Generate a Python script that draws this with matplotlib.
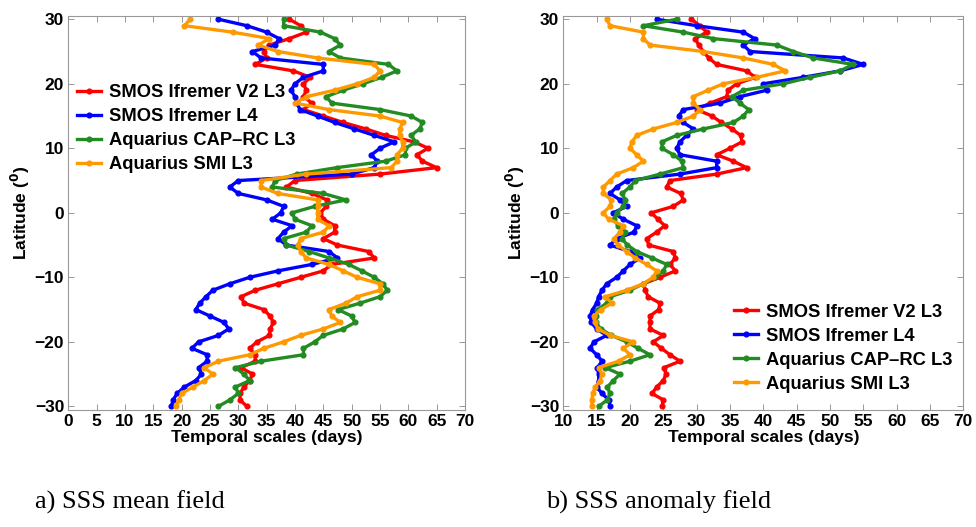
import numpy as np
import matplotlib
matplotlib.use("Agg")
import matplotlib.pyplot as plt

# latitude grid (degrees), 30N -> 30S
lat = np.arange(30, -31, -1)

# a) SSS mean field, temporal scales (days)
mean_smos_v2 = [39, 41, 42, 39, 35.5, 34.5, 35, 33, 39.7, 42.7,
                41.5, 42, 41.5, 43, 41.5, 45, 48.5, 52.5, 56, 61,
                63.5, 61.5, 62.5, 65, 55, 40, 38.5, 43, 45.6, 45.5,
                44.5, 45, 47, 47, 45, 47.5, 53, 54, 46.5, 45,
                41, 37, 33, 30.5, 31, 34.5, 35.6, 36.2, 35.6, 35.5,
                33.3, 32, 33, 33, 30.5, 32.5, 32, 31, 30.3, 30.3, 31.5]
mean_smos_l4 = [26.5, 31.5, 35, 37.2, 36.5, 32.5, 34, 45, 45, 41.5,
                40, 39.3, 40, 40.3, 40.9, 44, 47, 50.5, 54, 57.5,
                55, 53.5, 54.5, 54, 50, 30, 28.5, 30, 35, 38,
                37.5, 36, 39.5, 38, 37, 38.5, 46, 47.5, 43, 37,
                32, 28.5, 25.5, 24.3, 23.2, 22.5, 25, 27.5, 28.3, 26.5,
                23, 21.8, 24.5, 24.5, 23, 23.5, 22.5, 20.5, 19.2, 18.5, 18.2]
mean_aq_caprc = [38, 38, 44.5, 47, 48, 46, 48, 56.5, 58, 55.3,
                 52, 48.5, 45.5, 46.5, 55, 60.5, 62.5, 62, 60.5, 61.3,
                 59.5, 59.5, 56, 47.4, 40.3, 36.5, 36, 45, 49, 43.5,
                 39.5, 40, 43, 42, 38, 38.5, 42.5, 46, 49.5, 51.8,
                 54, 55.5, 56.3, 55, 51.5, 47.6, 50, 50.6, 48.5, 45,
                 43.5, 41.5, 41.5, 34, 29.5, 31, 32, 29.5, 30, 28.5, 26.5]
mean_aq_smi = [21.5, 20.5, 29, 35.5, 33.5, 37, 44, 54, 55, 54,
               51, 47, 42, 40, 46, 55, 59, 58.5, 58.5, 59,
               59, 58, 58, 57, 42, 34, 34, 37, 44, 44,
               44, 44, 46, 45, 41, 40.5, 41, 42, 46, 48.5,
               51, 55, 55, 51, 49, 46, 46.5, 48, 45, 41,
               38, 34.5, 32, 26.5, 24, 25.5, 24, 22, 20, 19.5, 19]

# b) SSS anomaly field, temporal scales (days)
anom_smos_v2 = [29.2, 30.5, 31.5, 29.8, 30.3, 31, 31.8, 33, 37.5, 38.8,
                36, 34.7, 34.5, 32, 30, 32.3, 33.7, 35.3, 36.6, 36.8,
                35, 33, 35.5, 37.5, 33, 26, 25.5, 27.6, 28, 26.5,
                23.2, 24.2, 25.2, 24, 22.5, 22.8, 26.5, 26.8, 26, 26.8,
                24.5, 22, 22.3, 22.7, 24.5, 24.3, 23, 23, 23, 25,
                23.5, 24.7, 26, 27.5, 25.1, 25.4, 25, 24, 23.3, 25, 24.8]
anom_smos_l4 = [24, 30, 37, 38.7, 37, 38, 52, 55, 51.5, 46,
                40, 40.5, 36.5, 33.5, 28, 27.3, 28, 29.5, 28.5, 27.5,
                27, 27.5, 33, 33, 27.5, 19.5, 18, 17, 18.5, 19.5,
                17.5, 19, 21, 20.6, 18, 17, 20, 21.5, 20, 19,
                18, 16.5, 15.8, 15.3, 15, 14.4, 14, 14.2, 15, 16.5,
                14.6, 14, 15, 15.8, 15.1, 15.3, 15.3, 15, 15.8, 16.8, 17]
anom_aq_caprc = [27, 22, 28, 32.5, 42, 44.5, 47.5, 53.5, 51.5, 47,
                 43, 37, 35.3, 36.5, 37.8, 37, 35.5, 31, 27, 24.8,
                 24.8, 26.5, 27.8, 28, 24.5, 20.8, 20, 18.8, 19.3, 19,
                 18, 17.6, 18.2, 19.3, 18.8, 19.6, 21, 23.3, 25.5, 25,
                 23.7, 22, 20, 17, 16.5, 15.1, 14.9, 14.9, 15.6, 17.2,
                 19.5, 21.2, 23, 20, 16.3, 18.5, 17.5, 16.6, 17, 16.6, 15.3]
anom_aq_smi = [16.5, 17, 22, 22, 23, 31, 37, 41.5, 43.3, 39,
               34, 31.7, 29.5, 29.5, 30.5, 29.5, 27, 23.5, 21, 20.3,
               20, 21, 22, 20.5, 18, 17, 16, 16, 17.2, 17,
               16, 16.8, 19, 18.5, 17.6, 18.2, 19.5, 20.8, 22.5, 24,
               23.5, 22, 19.5, 16.3, 17.3, 15.6, 14.6, 14.7, 15.2, 17,
               20.5, 19, 20, 18.3, 15.3, 15.8, 15.5, 14.8, 14.4, 14.3, 14.3]

labels = ["SMOS Ifremer V2 L3", "SMOS Ifremer L4",
          "Aquarius CAP\u2013RC L3", "Aquarius SMI L3"]
colors = ["#ff0000", "#0000ff", "#228b22", "#ff9900"]

fig = plt.figure(figsize=(9.76, 5.27), dpi=100)
ax1 = fig.add_axes([0.070, 0.2228, 0.4064, 0.7468])
ax2 = fig.add_axes([0.5772, 0.2228, 0.4098, 0.7468])

tick_font = dict(family=["Liberation Sans Narrow", "Liberation Sans"], weight="bold")

def draw(ax, series, xlim, xticks):
    for vals, lab, col in zip(series, labels, colors):
        ax.plot(vals, lat, "-o", color=col, lw=2.4, ms=3.4, label=lab)
    ax.set_xlim(*xlim)
    ax.set_ylim(-30.5, 30.5)
    ax.set_xticks(xticks)
    ax.set_yticks(np.arange(-30, 31, 10))
    ax.tick_params(direction="in", top=True, right=True, length=4,
                   width=0.6, color="#888888", pad=3)
    for t in ax.get_xticklabels() + ax.get_yticklabels():
        t.set_fontproperties(tick_font)
        t.set_fontsize(12.5)
    for s in ax.spines.values():
        s.set_color("#999999")
        s.set_linewidth(0.8)
    ax.set_xlabel("Temporal scales (days)", fontsize=12.5, fontweight="bold",
                  family=tick_font["family"], labelpad=1)
    ax.set_ylabel("Latitude ($^{\\mathbf{0}}$)", fontsize=12.5, fontweight="bold",
                  family=tick_font["family"], labelpad=2)

draw(ax1, [mean_smos_v2, mean_smos_l4, mean_aq_caprc, mean_aq_smi],
     (0, 70), np.arange(0, 71, 5))
draw(ax2, [anom_smos_v2, anom_smos_l4, anom_aq_caprc, anom_aq_smi],
     (10, 70), np.arange(10, 71, 5))

leg_font = dict(family=["Liberation Sans"], weight="bold", size=13.2)
ax1.legend(loc="upper left", bbox_to_anchor=(-0.005, 0.855), frameon=False,
           prop=leg_font, handlelength=1.3, handletextpad=0.45,
           labelspacing=0.38, borderaxespad=0.2)
ax2.legend(loc="lower right", bbox_to_anchor=(1.0, 0.015), frameon=False,
           prop=leg_font, handlelength=1.3, handletextpad=0.45,
           labelspacing=0.38, borderaxespad=0.2)

fig.text(0.036, 0.035, "a) SSS mean field", family="Liberation Serif",
         fontsize=19)
fig.text(0.559, 0.035, "b) SSS anomaly field", family="Liberation Serif",
         fontsize=19)

fig.savefig("out.png", dpi=100, facecolor="white")
